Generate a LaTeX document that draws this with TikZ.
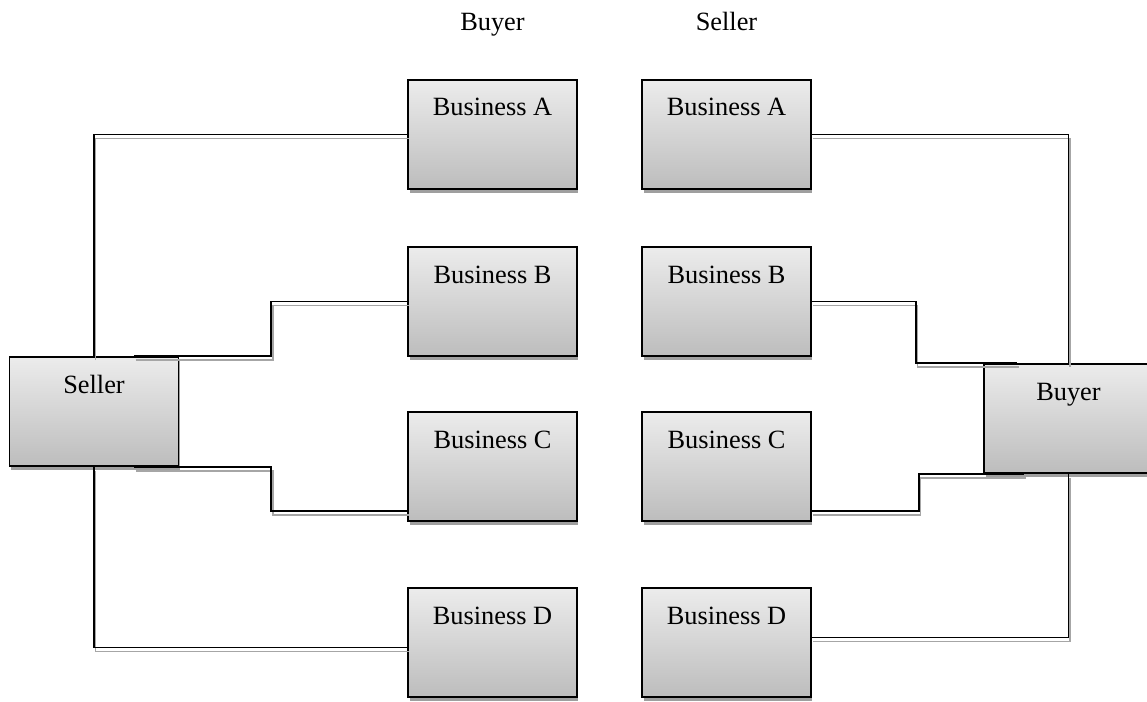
\documentclass[tikz,border=0pt]{standalone}
\usepackage{fontspec}
\setmainfont{Liberation Serif}
\usetikzlibrary{positioning}

\begin{document}
\begin{tikzpicture}[x=0.02cm, y=-0.02cm,
    box/.style={rectangle, draw=black, line width=1.1pt, top color=gray!15, bottom color=gray!52,
        preaction={fill=gray!75, transform canvas={xshift=0.03cm, yshift=-0.08cm}},
        minimum width=3.38cm, inner ysep=0pt, text height=0.72cm, text depth=1.46cm,
        font=\fontsize{15}{18}\selectfont},
    head/.style={anchor=base, font=\fontsize{15}{18}\selectfont},
    link/.style={line width=1.1pt, preaction={draw=gray!70, line width=0.8pt, transform canvas={xshift=0.03cm, yshift=-0.08cm}}}
]
\useasboundingbox (0,0) rectangle (1147,702);

% Headings
\node[head] (hbuyer) at (492.5,31) {Buyer};
\node[head] (hseller) at (726.5,31) {Seller};

% Components
\node[box] (seller) at (94,411.5) {Seller};
\node[box] (buyer) at (1068.5,418.5) {Buyer};

\node[box] (lA) at (492.5,134.5) {Business A};
\node[box] (lB) at (492.5,301.5) {Business B};
\node[box] (lC) at (492.5,466.5) {Business C};
\node[box] (lD) at (492.5,642.5) {Business D};

\node[box] (rA) at (726.5,134.5) {Business A};
\node[box] (rB) at (726.5,301.5) {Business B};
\node[box] (rC) at (726.5,466.5) {Business C};
\node[box] (rD) at (726.5,642.5) {Business D};

% Seller side
\draw[link] (seller.north) |- (lA.west);
\draw[link] ([xshift=-0.9cm]seller.north east) -- ++(137,0) |- (lB.west);
\draw[link] ([xshift=-0.9cm]seller.south east) -- ++(137,0) |- ([yshift=0.22cm]lC.south west);
\draw[link] (seller.south) |- ([yshift=-0.1cm]lD.west);

% Buyer side
\draw[link] (rA.east) -| (buyer.north);
\draw[link] (rB.east) -- ++(104,0) |- ([xshift=0.68cm]buyer.north west);
\draw[link] ([yshift=0.22cm]rC.south east) -- ++(107,0) |- ([xshift=0.82cm]buyer.south west);
\draw[link] ([yshift=0.1cm]rD.east) -| (buyer.south);

\end{tikzpicture}
\end{document}
